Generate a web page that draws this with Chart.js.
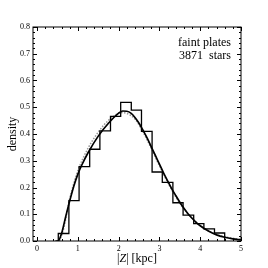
<!DOCTYPE html>
<html>
<head>
<meta charset="utf-8">
<script src="https://cdn.jsdelivr.net/npm/chart.js@4"></script>
<style>
  html, body { margin: 0; padding: 0; background: #fff; }
  #wrap { width: 268px; height: 268px; }
</style>
</head>
<body>
<div id="wrap"><canvas id="chart"></canvas></div>
<script>
// |Z| histogram, faint plates
const binEdges = [0.52, 0.78, 1.03, 1.29, 1.54, 1.80, 2.05, 2.31, 2.56, 2.82, 3.07, 3.33, 3.58, 3.84, 4.09, 4.35, 4.60];
const binDensity = [0.028, 0.151, 0.278, 0.343, 0.412, 0.466, 0.518, 0.489, 0.410, 0.258, 0.219, 0.143, 0.097, 0.065, 0.045, 0.030];

// solid model curve
const fitZ = [0.45, 0.52, 0.60, 0.70, 0.80, 0.90, 1.00, 1.10, 1.25, 1.50, 1.75, 2.00, 2.10, 2.20, 2.30, 2.40, 2.50, 2.60, 2.70, 2.80, 2.90, 3.00, 3.10, 3.20, 3.30, 3.40, 3.50, 3.60, 3.70, 3.80, 3.90, 4.00, 4.20, 4.40, 4.60, 4.80, 5.00];
const fitDensity = [0, 0.001, 0.028, 0.090, 0.150, 0.205, 0.250, 0.285, 0.330, 0.392, 0.440, 0.478, 0.486, 0.485, 0.478, 0.462, 0.440, 0.413, 0.385, 0.352, 0.320, 0.287, 0.255, 0.225, 0.196, 0.170, 0.145, 0.122, 0.102, 0.085, 0.070, 0.057, 0.037, 0.023, 0.014, 0.008, 0.004];

// dotted model curve
const altZ = [0.55, 0.65, 0.80, 0.90, 1.00, 1.25, 1.50, 1.75, 2.00, 2.10, 2.20, 2.40, 2.60, 2.80, 3.00, 3.20, 3.40, 3.60, 3.80, 4.00, 4.20, 4.40, 4.60, 4.80, 5.00];
const altDensity = [0, 0.045, 0.158, 0.215, 0.263, 0.347, 0.407, 0.451, 0.477, 0.480, 0.477, 0.456, 0.407, 0.346, 0.281, 0.220, 0.165, 0.120, 0.085, 0.058, 0.038, 0.025, 0.016, 0.010, 0.006];

const xTicks = [0, 1, 2, 3, 4, 5];
const yTicks = [0.0, 0.1, 0.2, 0.3, 0.4, 0.5, 0.6, 0.7, 0.8];
const xMinorStep = 0.2;
const yMinorStep = 0.02;

const SERIF = '"Liberation Serif", "DejaVu Serif", serif';

const histPoints = [{ x: binEdges[0], y: 0 }]
  .concat(binDensity.map((d, i) => ({ x: binEdges[i], y: d })))
  .concat([{ x: binEdges[binEdges.length - 1], y: binDensity[binDensity.length - 1] }])
  .concat([{ x: binEdges[binEdges.length - 1], y: 0 }]);

// frame, inward ticks, titles and the note
const framePlugin = {
  id: 'frame',
  afterDraw(chart) {
    const { ctx, chartArea: a, scales } = chart;
    const xs = scales.x, ys = scales.y;
    ctx.save();
    ctx.strokeStyle = '#000';
    ctx.lineWidth = 1;
    ctx.strokeRect(a.left, a.top, a.right - a.left, a.bottom - a.top);

    ctx.beginPath();
    for (let v = 0; v <= 5.0001; v += xMinorStep) {
      const major = Math.abs(v - Math.round(v)) < 1e-6;
      const len = major ? 4 : 2;
      const px = Math.round(xs.getPixelForValue(v)) + 0.5;
      ctx.moveTo(px, a.bottom); ctx.lineTo(px, a.bottom - len);
      ctx.moveTo(px, a.top); ctx.lineTo(px, a.top + len);
    }
    for (let v = 0; v <= 0.8001; v += yMinorStep) {
      const major = Math.abs(v * 10 - Math.round(v * 10)) < 1e-6;
      const len = major ? 4 : 2;
      const py = Math.round(ys.getPixelForValue(v)) + 0.5;
      ctx.moveTo(a.left, py); ctx.lineTo(a.left + len, py);
      ctx.moveTo(a.right, py); ctx.lineTo(a.right - len, py);
    }
    ctx.stroke();

    ctx.fillStyle = '#000';
    ctx.textBaseline = 'middle';

    // x title: |Z| [kpc]
    const parts = [
      { t: '|', f: '12px ' + SERIF },
      { t: 'Z', f: 'italic 12px ' + SERIF },
      { t: '| [kpc]', f: '12px ' + SERIF },
    ];
    let total = 0;
    parts.forEach(p => { ctx.font = p.f; p.w = ctx.measureText(p.t).width; total += p.w; });
    let tx = (a.left + a.right) / 2 - total / 2;
    const ty = a.bottom + 18;
    ctx.textAlign = 'left';
    parts.forEach(p => { ctx.font = p.f; ctx.fillText(p.t, tx, ty); tx += p.w; });

    // y title
    ctx.save();
    ctx.translate(13, (a.top + a.bottom) / 2);
    ctx.rotate(-Math.PI / 2);
    ctx.textAlign = 'center';
    ctx.font = '12px ' + SERIF;
    ctx.fillText('density', 0, 0);
    ctx.restore();

    // note
    ctx.textAlign = 'right';
    ctx.font = '12px ' + SERIF;
    ctx.fillText('faint plates', a.right - 10, a.top + 16);
    ctx.fillText('3871  stars', a.right - 10, a.top + 29);
    ctx.restore();
  },
};

new Chart(document.getElementById('chart'), {
  type: 'line',
  data: {
    datasets: [
      {
        label: 'histogram',
        data: histPoints,
        stepped: 'before',
        borderColor: '#000',
        borderWidth: 1.3,
        pointRadius: 0,
        fill: false,
      },
      {
        label: 'model',
        data: fitZ.map((z, i) => ({ x: z, y: fitDensity[i] })),
        borderColor: '#000',
        borderWidth: 1.7,
        pointRadius: 0,
        cubicInterpolationMode: 'monotone',
        fill: false,
      },
      {
        label: 'model 2',
        data: altZ.map((z, i) => ({ x: z, y: altDensity[i] })),
        borderColor: '#999',
        borderWidth: 1.5,
        borderDash: [1.5, 1.5],
        pointRadius: 0,
        cubicInterpolationMode: 'monotone',
        fill: false,
      },
    ],
  },
  options: {
    responsive: true,
    maintainAspectRatio: false,
    animation: false,
    layout: { padding: { top: 27, right: 27, left: 0, bottom: 0 } },
    plugins: { legend: { display: false }, tooltip: { enabled: false } },
    scales: {
      x: {
        type: 'linear',
        min: -0.1,
        max: 5,
        grid: { display: false, drawTicks: false },
        border: { display: false },
        afterBuildTicks: s => { s.ticks = xTicks.map(v => ({ value: v })); },
        afterFit: s => { s.height = 27; },
        ticks: {
          font: { family: SERIF, size: 8 },
          color: '#000',
          padding: 3,
          maxRotation: 0,
          callback: v => String(v),
        },
      },
      y: {
        type: 'linear',
        min: 0,
        max: 0.8,
        grid: { display: false, drawTicks: false },
        border: { display: false },
        afterBuildTicks: s => { s.ticks = yTicks.map(v => ({ value: v })); },
        afterFit: s => { s.width = 33; },
        ticks: {
          font: { family: SERIF, size: 8 },
          color: '#000',
          padding: 3,
          callback: v => v.toFixed(1),
        },
      },
    },
  },
  plugins: [framePlugin],
});
</script>
</body>
</html>
